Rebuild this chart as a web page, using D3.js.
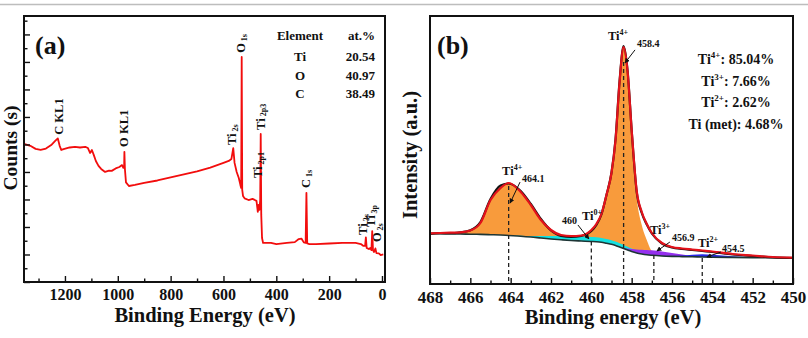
<!DOCTYPE html>
<html lang="en">
<head>
  <meta charset="utf-8">
  <title>XPS survey and Ti 2p</title>
  <script src="https://d3js.org/d3.v7.min.js"></script>
  <style>
    body { margin: 0; background: #fff; }
    svg text {
      font-family: "Liberation Serif", "Times New Roman", serif;
      font-weight: bold;
      fill: #111;
    }
    .tick line { stroke: #111; stroke-width: 1.4; }
    .frame { fill: none; stroke: #111; stroke-width: 2; }
  </style>
</head>
<body>
<svg width="808" height="338"></svg>
<script>
  // ---------- (a) survey spectrum ----------
  var surveyEnergy = [1355, 1331, 1311, 1292, 1272, 1252, 1237, 1227, 1220, 1214, 1202, 1182, 1162, 1143,
    1123, 1113, 1105, 1098, 1091, 1083, 1073, 1063, 1048, 1033, 1023, 1008, 994, 984, 979, 976, 975, 973,
    969, 958, 935, 900, 850, 800, 750, 700, 650, 600, 580, 570, 563, 558, 550, 542, 536, 533, 531, 529,
    526, 520, 505, 490, 475, 470, 467, 464, 461, 459, 457, 454, 450, 420, 400, 360, 330, 315, 305, 296,
    289, 286, 283, 275, 250, 200, 150, 100, 80, 70, 64, 61, 58, 50, 44, 40, 37, 34, 30, 25, 21, 12, 5, -5];
  var surveyCounts = [5.02, 4.95, 4.84, 4.80, 4.85, 4.98, 5.13, 5.22, 4.95, 4.80, 4.84, 4.89, 4.91, 4.89,
    4.91, 4.87, 4.69, 4.80, 4.62, 4.40, 4.22, 4.11, 4.00, 4.05, 4.04, 4.13, 4.18, 4.25, 4.15, 4.20, 4.73, 4.10,
    3.62, 3.49, 3.53, 3.60, 3.69, 3.80, 3.91, 4.02, 4.16, 4.33, 4.40, 4.47, 4.87, 4.33, 4.00, 3.78, 3.53, 3.42, 8.18, 3.35,
    3.13, 3.04, 2.98, 3.02, 2.95, 2.55, 2.80, 2.62, 2.98, 5.38, 2.44, 1.60, 1.42, 1.42, 1.38, 1.42, 1.45, 1.56, 1.58, 1.44,
    1.42, 3.24, 1.40, 1.38, 1.38, 1.40, 1.42, 1.42, 1.38, 1.31, 1.31, 1.62, 1.24, 1.20, 1.24, 1.16, 1.85, 1.16, 1.09, 1.22, 1.05, 1.04, 0.98, 1.00];
  var surveyTicks = [1200, 1000, 800, 600, 400, 200, 0];
  var surveyMinor = [1300, 1100, 900, 700, 500, 300, 100];

  // peak labels: main text, subscript, energy and height where the label starts
  var peakName = ["C KL1", "O KL1", "Ti", "O", "Ti", "Ti", "C", "Ti", "Ti", "O"];
  var peakSub = ["", "", "2s", "1s", "2p3", "2p1", "1s", "3s", "3p", "2s"];
  var peakLabelE = [1226, 977, 568, 534, 460, 471, 288, 72, 42, 19];
  var peakLabelC = [5.35, 4.91, 4.98, 8.33, 5.53, 3.78, 3.42, 1.71, 2.00, 1.45];

  var elements = ["Ti", "O", "C"];
  var atomicPct = ["20.54", "40.97", "38.49"];

  // ---------- (b) Ti 2p high resolution ----------
  var bindingEnergy = [468, 467.5, 467, 466.5, 466, 465.5, 465, 464.5, 464.1, 463.5, 463, 462.5, 462, 461.5,
    461, 460.5, 460, 459.75, 459.5, 459.25, 459, 458.8, 458.6, 458.4, 458.2, 458, 457.75, 457.5, 457.25, 457,
    456.5, 456, 455.5, 455, 454.5, 454, 453, 452, 451, 450];
  var background = [18.84, 18.81, 18.73, 18.66, 18.58, 18.51, 18.40, 18.28, 18.10, 17.84, 17.54, 17.16, 16.79, 16.49,
    16.23, 16.04, 15.86, 15.75, 15.56, 15.20, 14.81, 14.37, 13.81, 13.25, 12.69, 12.13, 11.57, 11.19, 10.90, 10.71,
    10.45, 10.30, 10.22, 10.15, 10.07, 10.00, 9.93, 9.85, 9.78, 9.70];
  var measured = [18.73, 18.96, 18.88, 19.25, 20.07, 23.13, 31.72, 36.75, 37.50, 34.70, 29.85, 24.25, 19.96, 17.91,
    17.54, 17.91, 19.78, 22.01, 25.93, 33.21, 41.60, 54.10, 75.75, 88.81, 79.48, 57.46, 34.33, 26.49, 22.20, 18.84,
    15.11, 13.62, 13.06, 12.69, 12.31, 11.94, 11.01, 10.45, 9.96, 9.70];
  var envelope = [18.92, 19.03, 19.14, 19.29, 19.96, 22.76, 31.34, 35.82, 37.69, 34.33, 29.48, 23.88, 20.15, 18.28,
    17.91, 18.10, 20.15, 22.39, 26.12, 33.21, 41.42, 53.73, 75.37, 88.43, 79.10, 57.46, 34.70, 26.87, 22.39, 19.03,
    15.30, 13.81, 13.25, 12.87, 12.50, 12.13, 11.19, 10.63, 10.07, 9.81];
  // component heights above the background
  var ti4 = [0, 0.11, 0.30, 0.52, 1.27, 4.14, 12.80, 18.13, 19.44, 16.34, 11.79, 6.53, 2.99, 1.23,
    1.12, 1.49, 3.92, 6.46, 10.41, 17.87, 26.46, 39.22, 61.38, 74.89, 66.04, 44.22, 20.52, 10.82, 5.52, 1.60,
    0.30, 0, 0, 0, 0, 0, 0, 0, 0, 0];
  var ti0 = [0, 0, 0, 0, 0, 0, 0, 0, 0, 0.19, 0.37, 0.75, 1.12, 1.31,
    1.49, 1.60, 1.68, 1.68, 1.64, 1.60, 1.53, 1.46, 1.38, 1.31, 1.19, 1.08, 0.93, 0.78, 0.60, 0.45,
    0.22, 0.07, 0, 0, 0, 0, 0, 0, 0, 0];
  var ti3 = [0, 0, 0, 0, 0, 0, 0, 0, 0, 0, 0, 0, 0, 0,
    0, 0, 0, 0, 0, 0, 0, 0, 0.11, 0.30, 0.56, 0.93, 1.31, 1.60, 1.79, 1.87,
    1.68, 1.23, 0.75, 0.37, 0.15, 0.04, 0, 0, 0, 0];
  var ti2 = [0, 0, 0, 0, 0, 0, 0, 0, 0, 0, 0, 0, 0, 0,
    0, 0, 0, 0, 0, 0, 0, 0, 0, 0, 0, 0, 0, 0, 0, 0,
    0, 0.11, 0.37, 0.75, 1.04, 0.93, 0.45, 0.15, 0.04, 0];

  var peakEnergy = [464.1, 460, 458.4, 456.9, 454.5];
  var peakState = ["4+", "0+", "4+", "3+", "2+"];
  var peakTop = [36.6, 15.9, 82.8, 10.8, 9.7];   // where the dashed marker starts

  var stateName = ["Ti", "Ti", "Ti", "Ti (met)"];
  var stateSup = ["4+", "3+", "2+", ""];
  var stateShare = ["85.04%", "7.66%", "2.62%", "4.68%"];

  var ti2pTicks = [468, 466, 464, 462, 460, 458, 456, 454, 452, 450];
  var ti2pMinor = [467, 465, 463, 461, 459, 457, 455, 453, 451];

  var svg = d3.select("svg");

  // thin grey rule at the very top of the figure
  svg.append("line")
    .attr("x1", 0).attr("x2", 808).attr("y1", 4.5).attr("y2", 4.5)
    .attr("stroke", "#bdbdbd").attr("stroke-width", 1.5);

  // ================= panel (a) =================
  var xa = d3.scaleLinear().domain([1355, -11.4]).range([24, 385]);
  var ya = d3.scaleLinear().domain([0, 9.67]).range([282, 16]);
  var pa = svg.append("g");

  var survey = surveyEnergy.map((e, i) => ({ e: e, c: surveyCounts[i] }));
  pa.append("path")
    .datum(survey)
    .attr("fill", "none")
    .attr("stroke", "#f20d0d")
    .attr("stroke-width", 1.8)
    .attr("stroke-linejoin", "round")
    .attr("d", d3.line().x(d => xa(d.e)).y(d => ya(d.c)));

  // axes, ticks inward
  pa.append("g")
    .attr("transform", "translate(0,282)")
    .call(d3.axisBottom(xa).tickValues(surveyTicks).tickFormat(d3.format("d")).tickSize(-6).tickPadding(7))
    .attr("font-size", 16)
    .call(g => g.select(".domain").remove());
  pa.append("g")
    .attr("transform", "translate(0,282)")
    .call(d3.axisBottom(xa).tickValues(surveyMinor).tickSize(-3.5).tickFormat(""))
    .call(g => g.select(".domain").remove());
  pa.append("g")
    .attr("transform", "translate(24,0)")
    .call(d3.axisLeft(ya).tickValues(d3.range(0, 10, 1)).tickSize(-6).tickFormat(""))
    .call(g => g.select(".domain").remove());
  pa.append("g")
    .attr("transform", "translate(24,0)")
    .call(d3.axisLeft(ya).tickValues(d3.range(0.5, 9.6, 1)).tickSize(-3.5).tickFormat(""))
    .call(g => g.select(".domain").remove());

  pa.append("rect").attr("class", "frame")
    .attr("x", 24).attr("y", 16).attr("width", 361).attr("height", 266);

  pa.append("text").attr("x", 205).attr("y", 322)
    .attr("text-anchor", "middle").attr("font-size", 20.5)
    .text("Binding Energy (eV)");
  pa.append("text")
    .attr("transform", "translate(17,148) rotate(-90)")
    .attr("text-anchor", "middle").attr("font-size", 19.5)
    .text("Counts (s)");
  pa.append("text").attr("x", 35).attr("y", 54).attr("font-size", 26).text("(a)");

  // rotated peak labels
  peakName.forEach(function(name, i) {
    var t = pa.append("text")
      .attr("transform", "translate(" + (xa(peakLabelE[i]) + 4.5) + "," + ya(peakLabelC[i]) + ") rotate(-90)")
      .attr("font-size", 12.5);
    t.append("tspan").text(name);
    if (peakSub[i]) {
      t.append("tspan").attr("font-size", 8).attr("dx", 2).attr("dy", 1.5).text(peakSub[i]);
    }
  });

  // element table
  var table = pa.append("g").attr("font-size", 13);
  table.append("text").attr("x", 300).attr("y", 40).attr("text-anchor", "middle").text("Element");
  table.append("text").attr("x", 375).attr("y", 40).attr("text-anchor", "end").text("at.%");
  elements.forEach(function(el, i) {
    table.append("text").attr("x", 300).attr("y", 61 + i * 18.7)
      .attr("text-anchor", "middle").text(el);
    table.append("text").attr("x", 375).attr("y", 61 + i * 18.7)
      .attr("text-anchor", "end").text(atomicPct[i]);
  });

  // ================= panel (b) =================
  var xb = d3.scaleLinear().domain([468, 450]).range([430, 793]);
  var yb = d3.scaleLinear().domain([0, 100]).range([284, 16]);
  var pb = svg.append("g");

  var rows = bindingEnergy.map((e, i) => ({
    e: e, bg: background[i], raw: measured[i], fit: envelope[i],
    ti4: ti4[i], ti0: ti0[i], ti3: ti3[i], ti2: ti2[i]
  }));

  function component(key) {
    return d3.area()
      .curve(d3.curveMonotoneX)
      .x(d => xb(d.e))
      .y0(d => yb(d.bg))
      .y1(d => yb(d.bg + d[key]));
  }

  // fills: Ti4+, Ti0, Ti3+, Ti2+
  var fills = [["ti4", "#f89b3c"], ["ti0", "#14e0e0"], ["ti3", "#9430ee"], ["ti2", "#2626e6"]];
  fills.forEach(function(f) {
    pb.append("path").datum(rows).attr("fill", f[1]).attr("d", component(f[0]));
  });

  var lineOf = key => d3.line().curve(d3.curveMonotoneX).x(d => xb(d.e)).y(d => yb(d[key]));

  pb.append("path").datum(rows)
    .attr("fill", "none").attr("stroke", "#1d3535").attr("stroke-width", 1.6)
    .attr("d", lineOf("bg"));
  pb.append("path").datum(rows)
    .attr("fill", "none").attr("stroke", "#151515").attr("stroke-width", 2.2)
    .attr("d", lineOf("raw"));
  pb.append("path").datum(rows)
    .attr("fill", "none").attr("stroke", "#e3121b").attr("stroke-width", 2.2)
    .attr("d", lineOf("fit"));

  // dashed markers at peak positions
  peakEnergy.forEach(function(e, i) {
    pb.append("line")
      .attr("x1", xb(e)).attr("x2", xb(e))
      .attr("y1", yb(peakTop[i])).attr("y2", 283)
      .attr("stroke", "#222").attr("stroke-width", 1.3)
      .attr("stroke-dasharray", "4,3");
  });

  pb.append("g")
    .attr("transform", "translate(0,284)")
    .call(d3.axisBottom(xb).tickValues(ti2pTicks).tickSize(-6).tickPadding(7))
    .attr("font-size", 17)
    .call(g => g.select(".domain").remove());
  pb.append("g")
    .attr("transform", "translate(0,284)")
    .call(d3.axisBottom(xb).tickValues(ti2pMinor).tickSize(-3.5).tickFormat(""))
    .call(g => g.select(".domain").remove());

  pb.append("rect").attr("class", "frame")
    .attr("x", 430).attr("y", 16).attr("width", 363).attr("height", 268);

  pb.append("text").attr("x", 613).attr("y", 324)
    .attr("text-anchor", "middle").attr("font-size", 20.5)
    .text("Binding energy (eV)");
  pb.append("text")
    .attr("transform", "translate(417,155) rotate(-90)")
    .attr("text-anchor", "middle").attr("font-size", 20.5)
    .text("Intensity (a.u.)");
  pb.append("text").attr("x", 437).attr("y", 54).attr("font-size", 26).text("(b)");

  // arrowhead
  svg.append("defs").append("marker")
    .attr("id", "head").attr("viewBox", "0 0 10 10")
    .attr("refX", 9).attr("refY", 5)
    .attr("markerWidth", 5).attr("markerHeight", 5)
    .attr("orient", "auto")
    .append("path").attr("d", "M0,0L10,5L0,10z").attr("fill", "#111");

  // peak annotations: arrow tip (data units), tail and label offsets in px
  var notes = [
    { tipE: 464.03, tipV: 30.2, tail: [10, -21], num: [12, -21, "start"], ion: [-8, -28] },
    { tipE: 460.12, tipV: 16.8, tail: [-11, -14], num: [-12, -15, "end"], ion: [-7, -19] },
    { tipE: 458.33, tipV: 82.5, tail: [10, -13], num: [12, -16, "start"], ion: [-17, -23] },
    { tipE: 456.75, tipV: 12.3, tail: [13, -9], num: [15, -10, "start"], ion: [-7, -17] },
    { tipE: 454.27, tipV: 10.07, tail: [14, -5], num: [15, -5, "start"], ion: [-9, -10] }
  ];
  notes.forEach(function(n, i) {
    var tx = xb(n.tipE), ty = yb(n.tipV);
    pb.append("line")
      .attr("x1", tx + n.tail[0]).attr("y1", ty + n.tail[1])
      .attr("x2", tx).attr("y2", ty)
      .attr("stroke", "#111").attr("stroke-width", 1)
      .attr("marker-end", "url(#head)");
    pb.append("text")
      .attr("x", tx + n.num[0]).attr("y", ty + n.num[1])
      .attr("text-anchor", n.num[2]).attr("font-size", 10)
      .text(peakEnergy[i]);
    var t = pb.append("text")
      .attr("x", tx + n.ion[0]).attr("y", ty + n.ion[1])
      .attr("font-size", 12.5);
    t.append("tspan").text("Ti");
    t.append("tspan").attr("font-size", 8).attr("dy", -5).text(peakState[i]);
  });

  // composition block
  stateName.forEach(function(name, i) {
    var t = pb.append("text")
      .attr("x", 736).attr("y", 64 + i * 21.5)
      .attr("text-anchor", "middle").attr("font-size", 14);
    t.append("tspan").text(name);
    if (stateSup[i]) {
      t.append("tspan").attr("font-size", 9).attr("dy", -6).text(stateSup[i]);
      t.append("tspan").attr("dy", 6).text(": " + stateShare[i]);
    } else {
      t.append("tspan").text(": " + stateShare[i]);
    }
  });
</script>
</body>
</html>
